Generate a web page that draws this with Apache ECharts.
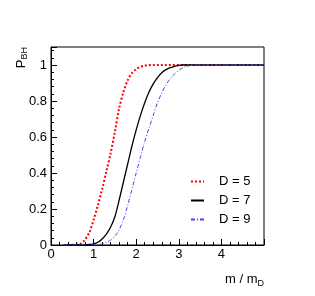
<!DOCTYPE html>
<html><head><meta charset="utf-8">
<script src="https://cdn.jsdelivr.net/npm/echarts@6/dist/echarts.min.js"></script>
<style>html,body{margin:0;padding:0;background:#fff}#c{width:315px;height:296px}</style>
</head><body><div id="c"></div>
<script>
const xValues = [0.3,0.4,0.5,0.6,0.7,0.8,0.9,1.0,1.1,1.2,1.3,1.4,1.5,1.6,1.7,1.8,1.9,2.0,2.1,2.2,2.3,2.4,2.5,2.6,2.7,2.8,2.9,3.0,3.1,3.2,3.3,3.4,3.5,4.0,4.5,5.0];
const d5 = [0,0,0.001,0.003,0.008,0.03,0.07,0.14,0.22,0.31,0.41,0.51,0.63,0.76,0.85,0.915,0.955,0.977,0.99,0.996,1,1,1,1,1,1,1,1,1,1,1,1,1,1,1,1];
const d7 = [0,0,0,0,0,0.001,0.003,0.006,0.015,0.033,0.06,0.10,0.157,0.25,0.35,0.45,0.55,0.64,0.72,0.79,0.85,0.895,0.93,0.957,0.974,0.985,0.993,0.998,1,1,1,1,1,1,1,1];
const d9 = [0,0,0,0,0,0,0,0,0.002,0.006,0.015,0.027,0.05,0.085,0.14,0.22,0.31,0.40,0.49,0.575,0.65,0.72,0.79,0.845,0.89,0.925,0.95,0.97,0.985,0.993,0.998,1,1,1,1,1];
const seriesNames = ['D = 5','D = 7','D = 9'];
const xTickLabels = ['0','1','2','3','4'];
const yTickLabels = ['0','0.2','0.4','0.6','0.8','1'];

const pairs = a => xValues.map((x,i)=>[x,a[i]]);
const chart = echarts.init(document.getElementById('c'));
const font = 'Liberation Sans';
chart.setOption({
  animation:false,
  textStyle:{fontFamily:font},
  grid:{left:51,right:51,top:47,bottom:51,show:true,borderColor:'#000',borderWidth:1,backgroundColor:'transparent'},
  legend:{
    orient:'vertical', left:185, top:170, itemGap:6, itemWidth:13, itemHeight:14,
    itemStyle:{opacity:0},
    textStyle:{fontFamily:font,fontSize:13,color:'#000',padding:[0,0,0,10]},
    data:seriesNames
  },
  xAxis:{
    type:'value',min:0,max:5,interval:1,
    name:'m / m{s|D}',nameLocation:'end',nameGap:0,
    nameTextStyle:{fontFamily:font,fontSize:13,color:'#000',align:'right',verticalAlign:'top',padding:[26,0,0,0],
      rich:{s:{fontSize:9,verticalAlign:'bottom',padding:[8,0,0,0],fontFamily:font,color:'#000'}}},
    axisLine:{lineStyle:{color:'#000',width:1}},
    axisTick:{inside:true,length:6,lineStyle:{color:'#000'}},
    minorTick:{show:true,splitNumber:5,length:3,lineStyle:{color:'#000'}},
    axisLabel:{fontFamily:font,fontSize:13,color:'#000',margin:3,showMaxLabel:false,
      formatter:v=>xTickLabels[Math.round(v)] ?? ''},
    splitLine:{show:false}
  },
  yAxis:{
    type:'value',min:0,max:1.1,interval:0.2,
    name:'P{s|BH}',nameLocation:'end',nameRotate:90,nameGap:0,
    nameTextStyle:{fontFamily:font,fontSize:13,color:'#000',align:'right',verticalAlign:'bottom',padding:[0,0,22,6],
      rich:{s:{fontSize:9,fontFamily:font,color:'#000',padding:[6,0,0,0]}}},
    axisLine:{lineStyle:{color:'#000',width:1}},
    axisTick:{inside:true,length:6,lineStyle:{color:'#000'}},
    minorTick:{show:true,splitNumber:5,length:3,lineStyle:{color:'#000'}},
    axisLabel:{fontFamily:font,fontSize:13,color:'#000',margin:4,showMaxLabel:false,
      formatter:v=>yTickLabels[Math.round(v*5)] ?? ''},
    splitLine:{show:false}
  },
  series:[
    {name:seriesNames[0],type:'line',data:pairs(d5),smooth:0.3,symbol:'none',
      lineStyle:{color:'#ff0000',width:2,type:[2,2]},itemStyle:{color:'#ff0000'}},
    {name:seriesNames[1],type:'line',data:pairs(d7),smooth:0.3,symbol:'none',
      lineStyle:{color:'#000000',width:1.3,type:'solid'},itemStyle:{color:'#000'}},
    {name:seriesNames[2],type:'line',data:pairs(d9),smooth:0.3,symbol:'none',
      lineStyle:{color:'#4040ff',width:1,type:[4,2,1,2]},itemStyle:{color:'#4040ff'}}
  ]
});
</script></body></html>
